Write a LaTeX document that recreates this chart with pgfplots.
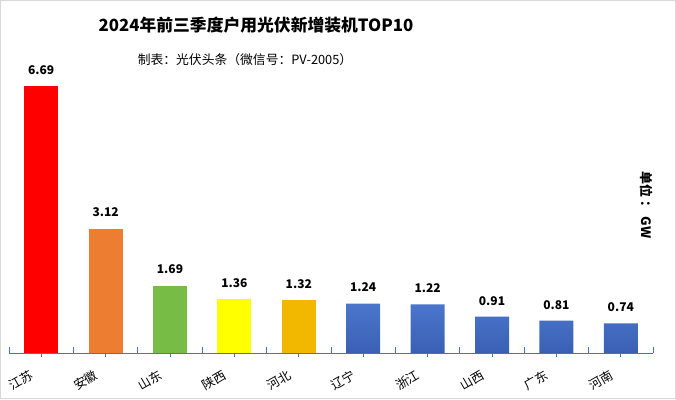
\documentclass[border=0pt]{standalone}
\usepackage{pgfplots}
\pgfplotsset{compat=1.18}
\usepackage{fontspec}
\setmainfont{Noto Sans CJK SC}
\definecolor{axblue}{HTML}{4472C4}
\definecolor{barred}{HTML}{FF0000}
\definecolor{barorange}{HTML}{ED7D31}
\definecolor{bargreen}{HTML}{77BC45}
\definecolor{baryellow}{HTML}{FFFF00}
\definecolor{bargold}{HTML}{F2B800}
\definecolor{bluetop}{HTML}{4A76CC}
\definecolor{bluebot}{HTML}{3A60B4}
\definecolor{framegray}{HTML}{D9D9D9}
\begin{document}
\begin{tikzpicture}[x=1pt,y=1pt]
\useasboundingbox (0,0) rectangle (676,399);
\fill[white] (0,0) rectangle (676,399);
\draw[color=framegray, line width=1.2pt] (0.6,0.6) rectangle (675.4,398.4);
\begin{axis}[
  at={(9pt,46pt)}, anchor=south west,
  scale only axis, width=644pt, height=319.2pt,
  xmin=-0.5, xmax=9.5, ymin=0, ymax=8,
  axis x line*=bottom, axis y line=none,
  x axis line style={draw=axblue, line width=1pt},
  xtick={0,...,9},
  xticklabels={江苏,安徽,山东,陕西,河北,辽宁,浙江,山西,广东,河南},
  xticklabel style={rotate=30, anchor=north east, font=\fontsize{12.5}{14}\selectfont, xshift=-13pt, yshift=-1pt},
  major tick length=4pt, tick align=outside,
  major tick style={draw=axblue, line width=0.8pt},
  minor xtick={-0.5,0.5,...,9.5},
  minor tick length=6pt,
  minor tick style={draw=axblue, line width=0.8pt, yshift=6pt},
  ytick=\empty,
  /pgf/number format/assume math mode=true,
  /pgf/number format/.cd, fixed, precision=2, fixed zerofill,
  /pgfplots/.cd,
  nodes near coords,
  every node near coord/.append style={anchor=center, yshift=16pt, font=\fontsize{12}{14}\selectfont\bfseries, text=black},
  clip=false,
]
\addplot[ybar, bar width=34pt, bar shift=0pt, fill=barred, draw=none] coordinates {(0,6.69)};
\addplot[ybar, bar width=34pt, bar shift=0pt, fill=barorange, draw=none] coordinates {(1,3.12)};
\addplot[ybar, bar width=34pt, bar shift=0pt, fill=bargreen, draw=none] coordinates {(2,1.69)};
\addplot[ybar, bar width=34pt, bar shift=0pt, fill=baryellow, draw=none] coordinates {(3,1.36)};
\addplot[ybar, bar width=34pt, bar shift=0pt, fill=bargold, draw=none] coordinates {(4,1.32)};
\addplot[ybar, bar width=34pt, bar shift=0pt, top color=bluetop, bottom color=bluebot, draw=none] coordinates {(5,1.24) (6,1.22) (7,0.91) (8,0.81) (9,0.74)};
\end{axis}
\node[font=\fontsize{16.8}{20}\selectfont\bfseries] at (256,374) {2024年前三季度户用光伏新增装机TOP10};
\node[font=\fontsize{12.8}{15}\selectfont] at (245,339) {制表：光伏头条（微信号：PV-2005）};
\node[rotate=-90, font=\fontsize{13}{15}\selectfont\bfseries] at (647,194) {单位 ： GW};
\end{tikzpicture}
\end{document}
